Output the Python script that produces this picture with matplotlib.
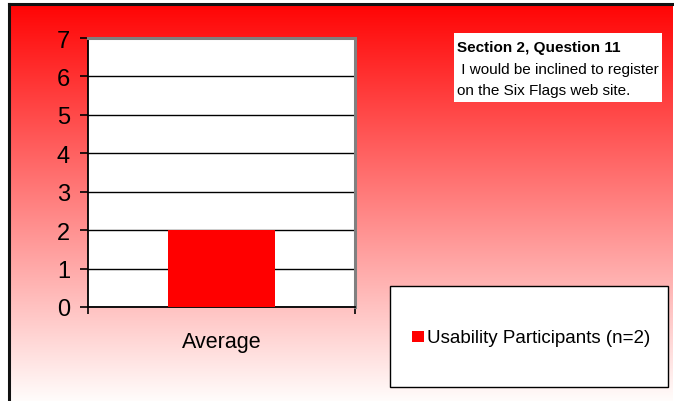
import numpy as np
import matplotlib
matplotlib.use("Agg")
import matplotlib.pyplot as plt
from matplotlib.patches import Rectangle
from matplotlib.lines import Line2D

plt.rcParams['font.family'] = ['Liberation Sans', 'DejaVu Sans']

# data
categories = ['Average']
values = [2]
series_name = 'Usability Participants (n=2)'
title_bold = 'Section 2, Question 11'
title_lines = [' I would be inclined to register', 'on the Six Flags web site.']
y_ticks = [0, 1, 2, 3, 4, 5, 6, 7]

W, H = 674, 402
fig = plt.figure(figsize=(W / 100, H / 100), dpi=100, facecolor='white')


def px_box(x0, y0, x1, y1):
    """pixel box (top-left origin) -> figure fraction rect"""
    return [x0 / W, 1 - y1 / H, (x1 - x0) / W, (y1 - y0) / H]


# gradient background, red at top fading to white
bg = fig.add_axes(px_box(10, 6, 673, 402))
bg.set_axis_off()
t = np.linspace(0, 1, 256)[:, None]
top = np.array([1.0, 0.02, 0.02])
bottom = np.array([1.0, 0.99, 0.985])
grad = top[None, None, :] * (1 - t[..., None]) + bottom[None, None, :] * t[..., None]
grad = np.repeat(grad, 4, axis=1)
bg.imshow(grad, aspect='auto', extent=[0, 1, 0, 1], interpolation='bilinear')
bg.set_xlim(0, 1)
bg.set_ylim(0, 1)

# black border on top and left
fig.add_artist(Line2D([8.5 / W, 1], [1 - 5 / H, 1 - 5 / H], color='#111111', lw=2.2,
                      transform=fig.transFigure))
fig.add_artist(Line2D([9 / W, 9 / W], [0, 1 - 5 / H], color='#111111', lw=2.2,
                      transform=fig.transFigure))

# main chart
ax = fig.add_axes(px_box(88, 39, 355, 308))
ax.set_facecolor('white')
x = np.arange(len(categories))
ax.bar(x, values, width=0.40, color='#ff0000', zorder=3, label=series_name)
ax.set_xlim(-0.5, 0.5)
ax.set_ylim(0, 7)
ax.set_yticks(y_ticks)
ax.yaxis.grid(True, color='black', lw=1.0, zorder=1)
ax.set_axisbelow(True)

ax.set_xticks(x)
ax.set_xticklabels(categories, fontsize=15.5)
ax.tick_params(axis='x', which='major', length=0, pad=17)
ax.set_xticks([-0.5, 0.5], minor=True)
ax.tick_params(axis='x', which='minor', length=5, width=1.2, color='black')
ax.tick_params(axis='y', length=6, width=1.2, color='black', labelsize=17, pad=7)

for s in ['left', 'bottom']:
    ax.spines[s].set_color('black')
    ax.spines[s].set_linewidth(1.3)
for s in ['top', 'right']:
    ax.spines[s].set_color('#808080')
    ax.spines[s].set_linewidth(2.2)

# title box upper right
fig.add_artist(Rectangle((454 / W, 1 - 103 / H), (662 - 454) / W, (103 - 34) / H,
                         transform=fig.transFigure, facecolor='white', edgecolor='none'))
fig.text(457 / W, 1 - 48 / H, title_bold, fontsize=11, fontweight='bold',
         va='center', ha='left')
for i, line in enumerate(title_lines):
    fig.text(457 / W, 1 - (70 + 21 * i) / H, line, fontsize=11, va='center', ha='left')

# legend box lower right
fig.add_artist(Rectangle((390 / W, 1 - 388 / H), (668 - 390) / W, (388 - 287) / H,
                         transform=fig.transFigure, facecolor='white', edgecolor='black',
                         lw=1.0))
fig.add_artist(Rectangle((412 / W, 1 - 343 / H), 12 / W, 11 / H,
                         transform=fig.transFigure, facecolor='#ff0000', edgecolor='none'))
fig.text(427 / W, 1 - 338.5 / H, series_name, fontsize=13.5, va='center', ha='left')

fig.savefig('out.png', dpi=100, facecolor='white')
